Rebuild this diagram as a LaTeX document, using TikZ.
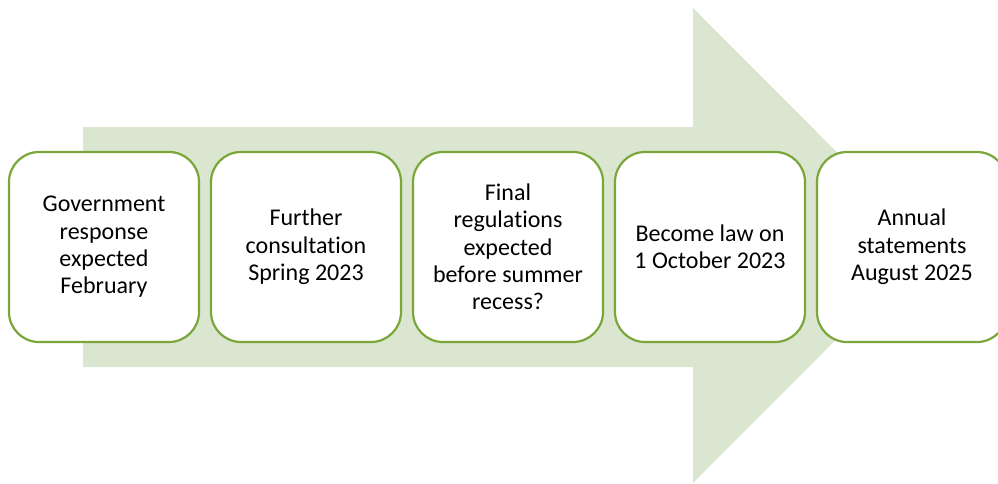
\documentclass[tikz,border=0pt]{standalone}
\usepackage{fontspec}
\setmainfont{Carlito}[Ligatures=NoCommon]
\usepackage{xcolor}
\usetikzlibrary{positioning}

\definecolor{stepgreen}{RGB}{122,166,58}
\definecolor{arrowfill}{RGB}{218,230,207}

\begin{document}
\begin{tikzpicture}[x=1pt, y=1pt,
        stage/.style={draw=stepgreen, line width=2.2pt, fill=white,
            rounded corners=30pt, minimum width=190pt, minimum height=190pt,
            inner sep=0pt, align=center, font=\fontsize{24}{27.3}\selectfont},
        node distance=9.8pt]
        \useasboundingbox (0,0) rectangle (998,483);
        \clip (0,0) rectangle (998,483);

        % Big arrow behind
        \fill [arrowfill] (83,356) -- (693,356) -- (693,475) -- (930,237.5)
            -- (693,0) -- (693,116) -- (83,116) -- cycle;

        % Stages
        \node [stage] (govt) at (104,236) {Government\\response\\expected\\February};
        \node [stage, right=of govt] (consult) {Further\\consultation\\Spring 2023};
        \node [stage, right=of consult] (final) {Final\\regulations\\expected\\before summer\\recess?};
        \node [stage, right=of final] (law) {Become law on\\1 October 2023};
        \node [stage, right=of law] (annual) {Annual\\statements\\August 2025};
    \end{tikzpicture}
\end{document}
